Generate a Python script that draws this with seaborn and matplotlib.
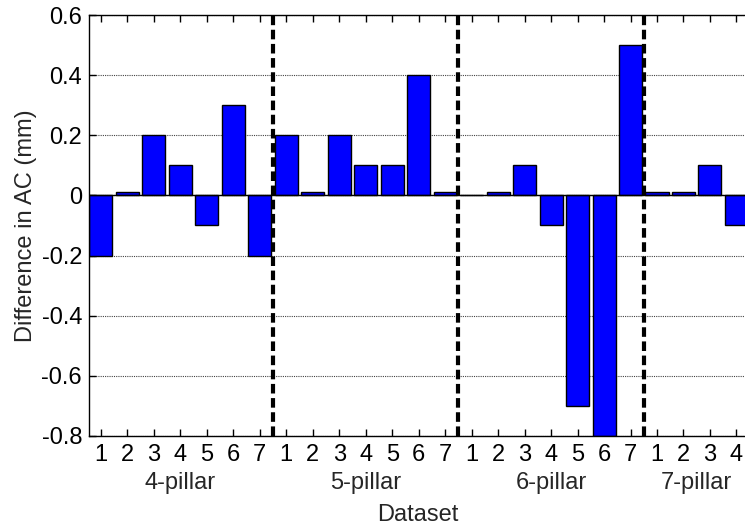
import numpy as np
import pandas as pd
import matplotlib
matplotlib.use("Agg")
import matplotlib.pyplot as plt
import matplotlib.transforms as mtransforms
import seaborn as sns

# Per-configuration differences in AC (mm)
groups = ["4-pillar", "5-pillar", "6-pillar", "7-pillar"]
diff_4 = [-0.2, 0.01, 0.2, 0.1, -0.1, 0.3, -0.2]
diff_5 = [0.2, 0.01, 0.2, 0.1, 0.1, 0.4, 0.01]
diff_6 = [0.002, 0.01, 0.1, -0.1, -0.7, -0.8, 0.5]
diff_7 = [0.01, 0.01, 0.1, -0.1]
y_ticks = [-0.8, -0.6, -0.4, -0.2, 0, 0.2, 0.4, 0.6]
y_tick_labels = ["-0.8", "-0.6", "-0.4", "-0.2", "0", "0.2", "0.4", "0.6"]

series = [diff_4, diff_5, diff_6, diff_7]
rows = []
pos = 1
for g, vals in zip(groups, series):
    for i, v in enumerate(vals, start=1):
        rows.append({"pos": pos, "dataset": i, "group": g, "diff": v})
        pos += 1
df = pd.DataFrame(rows)

FS = 17

sns.set_style("white")
plt.rcParams["font.family"] = ["Liberation Sans", "DejaVu Sans"]
plt.rcParams["font.size"] = FS

fig = plt.figure(figsize=(7.45, 5.29), dpi=100)
W, H = 745, 529
left, right, top, bottom = 89, 751, 15, 436
ax = fig.add_axes([left / W, 1 - bottom / H, (right - left) / W, (bottom - top) / H])

# horizontal dotted grid
for yv in y_ticks:
    ax.axhline(yv, color="#444444", linestyle=(0, (1, 1)), linewidth=0.8, zorder=0)

sns.barplot(data=df, x="pos", y="diff", native_scale=True, width=0.87,
            color="#0000ff", saturation=1, edgecolor="black", linewidth=1.0,
            ax=ax, zorder=2)

ax.axhline(0, color="black", linewidth=1.0, zorder=3)

# group separators
edges = np.cumsum([len(s) for s in series])[:-1] + 0.5
for e in edges:
    ax.axvline(e, color="black", linestyle=(0, (2.3, 1.1)), linewidth=3, zorder=4)

ax.set_xlim(0.55, 25.55)
ax.set_ylim(-0.8, 0.6)
ax.set_yticks(y_ticks)
ax.set_yticklabels(y_tick_labels)
ax.set_xticks(df["pos"])
ax.set_xticklabels(df["dataset"].astype(str))
ax.tick_params(axis="both", direction="in", length=5, width=1, color="black",
               labelsize=FS, labelcolor="black")
ax.tick_params(axis="x", top=True, bottom=True, pad=6)
ax.tick_params(axis="y", left=True, right=False, pad=5)

for side in ["left", "top", "bottom"]:
    ax.spines[side].set_visible(True)
    ax.spines[side].set_color("black")
    ax.spines[side].set_linewidth(1.0)
ax.spines["right"].set_visible(False)

ax.set_xlabel("")
ax.set_ylabel("Difference in AC (mm)", fontsize=FS)
ax.yaxis.set_label_coords((37 - left) / (right - left), 0.5)

# group names under the tick labels
trans = mtransforms.blended_transform_factory(ax.transData, fig.transFigure)
start = 1
for g, vals in zip(groups, series):
    center = start + (len(vals) - 1) / 2
    ax.text(center, 1 - 483 / H, g, transform=trans, ha="center", va="center", fontsize=FS)
    start += len(vals)

fig.text(418 / W, 1 - 515 / H, "Dataset", ha="center", va="center", fontsize=FS)

fig.savefig("out.png", dpi=100)
